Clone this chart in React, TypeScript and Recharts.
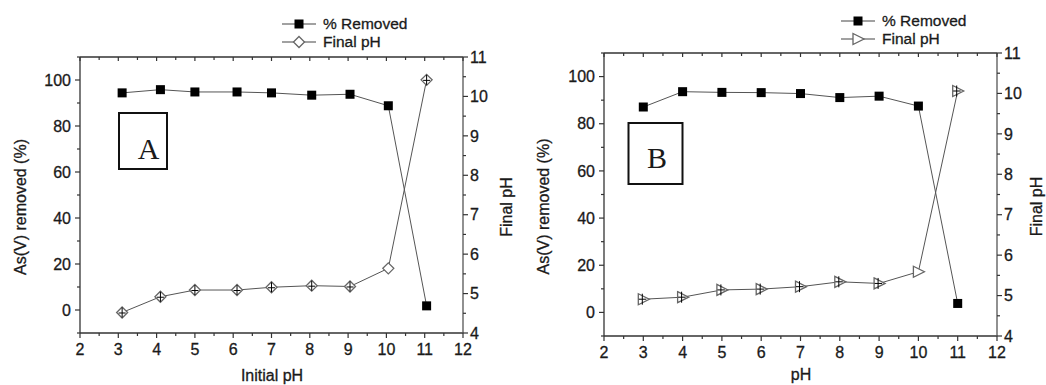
import React from 'react'
import { LineChart, Line, XAxis, YAxis, Legend } from 'recharts'

// Panel A: initial pH as plotted (points sit a bit right of the integer grid)
const A_PH_INITIAL = [3.1, 4.1, 5.0, 6.1, 7.0, 8.05, 9.05, 10.05, 11.05]
const A_REMOVED = [94.4, 95.8, 94.8, 94.8, 94.4, 93.4, 93.8, 88.8, 1.8]
const A_FINAL_PH = [4.52, 4.92, 5.09, 5.09, 5.16, 5.2, 5.18, 5.64, 10.42]

// Panel B
const B_PH = [3, 4, 5, 6, 7, 8, 9, 10, 11]
const B_REMOVED = [87.1, 93.6, 93.3, 93.2, 92.8, 91.1, 91.7, 87.5, 3.8]
const B_FINAL_PH = [4.91, 4.96, 5.14, 5.16, 5.22, 5.34, 5.3, 5.59, 10.06]

const X_TICKS = [2, 2.5, 3, 3.5, 4, 4.5, 5, 5.5, 6, 6.5, 7, 7.5, 8, 8.5, 9, 9.5, 10, 10.5, 11, 11.5, 12]
const X_LABELS = [2, 3, 4, 5, 6, 7, 8, 9, 10, 11, 12]
const LEFT_TICKS = [-10, 0, 10, 20, 30, 40, 50, 60, 70, 80, 90, 100, 110]
const LEFT_LABELS = [0, 20, 40, 60, 80, 100]
const RIGHT_TICKS = [4, 4.5, 5, 5.5, 6, 6.5, 7, 7.5, 8, 8.5, 9, 9.5, 10, 10.5, 11]
const RIGHT_LABELS = [4, 5, 6, 7, 8, 9, 10, 11]

const AX = '#333'
const TXT = '#1a1a1a'
const LINE = '#555'
const FONT = '"Liberation Sans", Arial, sans-serif'
const SERIF = '"Liberation Serif", "Times New Roman", serif'

// scanned figure text looks a touch heavier than a plain 16px regular
const textStyle = { stroke: TXT, strokeWidth: 0.3 }

function BottomTick(props: any) {
  const { x, y, payload } = props
  const major = X_LABELS.includes(payload.value)
  return (
    <g>
      <line x1={x} x2={x} y1={y} y2={y + (major ? 5 : 3)} stroke={AX} strokeWidth={1.2} />
      {major && (
        <text x={x} y={y + 22} textAnchor="middle" fontSize={16} fontFamily={FONT} fill={TXT} style={textStyle}>
          {payload.value}
        </text>
      )}
    </g>
  )
}

function TopTick(props: any) {
  const { x, y, payload } = props
  const major = X_LABELS.includes(payload.value)
  return <line x1={x} x2={x} y1={y} y2={y + (major ? 4 : 3)} stroke={AX} strokeWidth={1.2} />
}

function LeftTick(props: any) {
  const { x, y, payload } = props
  const major = LEFT_LABELS.includes(payload.value)
  return (
    <g>
      <line x1={x - (major ? 5 : 3)} x2={x} y1={y} y2={y} stroke={AX} strokeWidth={1.2} />
      {major && (
        <text x={x - 9} y={y + 5.7} textAnchor="end" fontSize={16} fontFamily={FONT} fill={TXT} style={textStyle}>
          {payload.value}
        </text>
      )}
    </g>
  )
}

function RightTick(props: any) {
  const { x, y, payload } = props
  const major = RIGHT_LABELS.includes(payload.value)
  return (
    <g>
      <line x1={x} x2={x + (major ? 5 : 3)} y1={y} y2={y} stroke={AX} strokeWidth={1.2} />
      {major && (
        <text x={x + 7} y={y + 5.7} textAnchor="start" fontSize={16} fontFamily={FONT} fill={TXT} style={textStyle}>
          {payload.value}
        </text>
      )}
    </g>
  )
}

function squareMark(cx: number, cy: number) {
  return <rect x={cx - 4.5} y={cy - 4.5} width={9} height={9} fill="#000" />
}

function diamondMark(cx: number, cy: number, cross: boolean) {
  return (
    <g>
      <path
        d={`M${cx} ${cy - 5.5} L${cx + 5.5} ${cy} L${cx} ${cy + 5.5} L${cx - 5.5} ${cy} Z`}
        fill="#fff"
        stroke="#666"
        strokeWidth={1.3}
      />
      {cross && (
        <path d={`M${cx} ${cy - 5} V${cy + 5} M${cx - 3.5} ${cy + 0.5} H${cx + 3.5}`} stroke="#000" strokeWidth={1} />
      )}
    </g>
  )
}

function triangleMark(cx: number, cy: number, cross: boolean) {
  return (
    <g>
      <path
        d={`M${cx - 5} ${cy - 5.5} L${cx + 6} ${cy} L${cx - 5} ${cy + 5.5} Z`}
        fill="#fff"
        stroke="#666"
        strokeWidth={1.3}
      />
      {cross && (
        <path d={`M${cx - 1} ${cy - 5.5} V${cy + 5.5} M${cx - 4.5} ${cy} H${cx + 3}`} stroke="#000" strokeWidth={1} />
      )}
    </g>
  )
}

type PanelProps = {
  xs: number[]
  removed: number[]
  finalPh: number[]
  shape: 'diamond' | 'triangle'
  xTitle: string
  letter: string
  margin: { top: number; right: number; bottom: number; left: number }
  legendPos: { left: number; top: number }
  titles: { leftX: number; rightX: number; midY: number; bottomX: number; bottomY: number }
  box: { x: number; y: number; w: number; h: number; tx: number; ty: number }
}

const W = 520
const H = 385

function Panel(p: PanelProps) {
  const data = p.xs.map((x, i) => ({ x, removed: p.removed[i], ph: p.finalPh[i] }))
  const phMark = (cx: number, cy: number, cross = true) =>
    p.shape === 'diamond' ? diamondMark(cx, cy, cross) : triangleMark(cx, cy, cross)

  const legend = (props: any) => (
    <div style={{ fontFamily: FONT }}>
      {(props.payload || []).map((item: any) => (
        <div key={item.value} style={{ display: 'flex', alignItems: 'center', height: 18 }}>
          <svg width={34} height={14} style={{ overflow: 'visible' }}>
            <line x1={0} x2={34} y1={7} y2={7} stroke="#444" strokeWidth={1.2} />
            {item.dataKey === 'removed' ? squareMark(17, 7) : phMark(17, 7, false)}
          </svg>
          <span
            style={{ marginLeft: 7, fontSize: 15.5, color: TXT, lineHeight: '18px', WebkitTextStroke: '0.3px #1a1a1a' }}
          >
            {item.value}
          </span>
        </div>
      ))}
    </div>
  )

  const vTitle = (text: string, x: number) => () => (
    <text
      x={x}
      y={p.titles.midY}
      transform={`rotate(-90 ${x} ${p.titles.midY})`}
      textAnchor="middle"
      dominantBaseline="central"
      fontSize={16}
      fontFamily={FONT}
      fill={TXT}
      style={textStyle}
    >
      {text}
    </text>
  )

  return (
    <div style={{ position: 'relative', width: W, height: H }}>
      <LineChart width={W} height={H} data={data} margin={p.margin}>
        <XAxis
          xAxisId="bottom"
          dataKey="x"
          type="number"
          domain={[2, 12]}
          ticks={X_TICKS}
          interval={0}
          height={30}
          tickSize={0}
          tickMargin={0}
          tick={<BottomTick />}
          tickLine={false}
          axisLine={{ stroke: AX, strokeWidth: 1.3 }}
          label={{
            content: () => (
              <text
                x={p.titles.bottomX}
                y={p.titles.bottomY}
                textAnchor="middle"
                fontSize={16}
                fontFamily={FONT}
                fill={TXT}
                style={textStyle}
              >
                {p.xTitle}
              </text>
            ),
          }}
        />
        <XAxis
          xAxisId="top"
          orientation="top"
          dataKey="x"
          type="number"
          domain={[2, 12]}
          ticks={X_TICKS}
          interval={0}
          height={10}
          tickSize={0}
          tickMargin={0}
          tick={<TopTick />}
          tickLine={false}
          axisLine={{ stroke: AX, strokeWidth: 1.3 }}
        />
        <YAxis
          yAxisId="left"
          type="number"
          domain={[-10, 110]}
          ticks={LEFT_TICKS}
          interval={0}
          width={60}
          tickSize={0}
          tickMargin={0}
          tick={<LeftTick />}
          tickLine={false}
          axisLine={{ stroke: AX, strokeWidth: 1.3 }}
          label={{ content: vTitle('As(V) removed (%)', p.titles.leftX) }}
        />
        <YAxis
          yAxisId="right"
          orientation="right"
          type="number"
          domain={[4, 11]}
          ticks={RIGHT_TICKS}
          interval={0}
          width={45}
          tickSize={0}
          tickMargin={0}
          tick={<RightTick />}
          tickLine={false}
          axisLine={{ stroke: '#555', strokeWidth: 1.3 }}
          label={{ content: vTitle('Final pH', p.titles.rightX) }}
        />
        <Legend
          layout="horizontal"
          verticalAlign="middle"
          align="center"
          content={legend}
          wrapperStyle={{ left: p.legendPos.left, top: p.legendPos.top, width: 180, height: 36 }}
        />
        <Line
          xAxisId="bottom"
          yAxisId="left"
          dataKey="removed"
          name="% Removed"
          stroke={LINE}
          strokeWidth={1}
          isAnimationActive={false}
          dot={(d: any) => <g key={`sq-${d.index}`}>{squareMark(d.cx, d.cy)}</g>}
          activeDot={false}
        />
        <Line
          xAxisId="bottom"
          yAxisId="right"
          dataKey="ph"
          name="Final pH"
          stroke={LINE}
          strokeWidth={1}
          isAnimationActive={false}
          dot={(d: any) => <g key={`ph-${d.index}`}>{phMark(d.cx, d.cy, d.index !== 7)}</g>}
          activeDot={false}
        />
      </LineChart>
      <svg width={W} height={H} style={{ position: 'absolute', left: 0, top: 0, pointerEvents: 'none' }}>
        <rect x={p.box.x} y={p.box.y} width={p.box.w} height={p.box.h} fill="none" stroke="#111" strokeWidth={2} />
        <text x={p.box.tx} y={p.box.ty} textAnchor="middle" fontSize={30} fontFamily={SERIF} fill={TXT}>
          {p.letter}
        </text>
      </svg>
    </div>
  )
}

export default function App() {
  return (
    <div style={{ position: 'absolute', left: 0, top: 0, width: 1046, height: 385, background: '#fff', overflow: 'hidden' }}>
      <div style={{ position: 'absolute', left: 0, top: 0 }}>
        <Panel
          xs={A_PH_INITIAL}
          removed={A_REMOVED}
          finalPh={A_FINAL_PH}
          shape="diamond"
          xTitle="Initial pH"
          letter="A"
          margin={{ top: 47, right: 12, bottom: 22, left: 20 }}
          legendPos={{ left: 282, top: 15 }}
          titles={{ leftX: 20, rightX: 506, midY: 207, bottomX: 272, bottomY: 381 }}
          box={{ x: 119, y: 113, w: 48, h: 56, tx: 148.5, ty: 159 }}
        />
      </div>
      <div style={{ position: 'absolute', left: 526, top: 0 }}>
        <Panel
          xs={B_PH}
          removed={B_REMOVED}
          finalPh={B_FINAL_PH}
          shape="triangle"
          xTitle="pH"
          letter="B"
          margin={{ top: 43, right: 4, bottom: 19, left: 18 }}
          legendPos={{ left: 315, top: 12 }}
          titles={{ leftX: 17.5, rightX: 510, midY: 206.5, bottomX: 275, bottomY: 380 }}
          box={{ x: 102.5, y: 123, w: 54, h: 61, tx: 131, ty: 168 }}
        />
      </div>
    </div>
  )
}
